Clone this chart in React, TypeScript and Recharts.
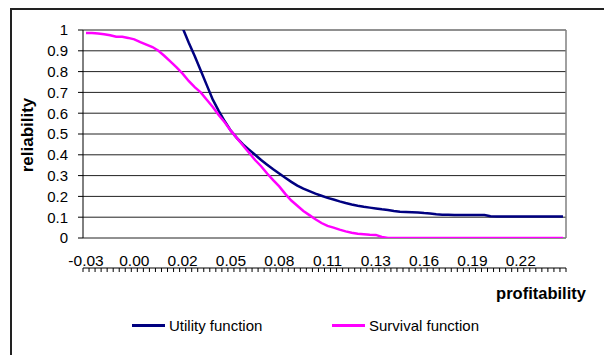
import React from "react";
import {
  LineChart,
  Line,
  XAxis,
  YAxis,
  CartesianGrid,
  Legend,
  ReferenceLine,
  Label,
} from "recharts";

const FONT = '"Liberation Sans", Arial, sans-serif';

// tick labels shown every 8th category
const TICK_LABELS = ["-0.03", "0.00", "0.02", "0.05", "0.08", "0.11", "0.13", "0.16", "0.19", "0.22"];
const LABEL_STEP = 8;

const Y_TICKS = [0, 0.1, 0.2, 0.3, 0.4, 0.5, 0.6, 0.7, 0.8, 0.9, 1];

// utility function (values above 1 are clipped by the plot area)
const UTILITY = [
  null, null, null, null, null, null, null, null, null, null,
  null, null, null, null, 1.22, 1.11, 1.01, 0.94, 0.875, 0.805,
  0.735, 0.665, 0.61, 0.56, 0.515, 0.48, 0.45, 0.425, 0.4, 0.375,
  0.352, 0.33, 0.31, 0.29, 0.27, 0.252, 0.237, 0.225, 0.213, 0.203,
  0.193, 0.185, 0.176, 0.168, 0.161, 0.155, 0.15, 0.146, 0.142, 0.138,
  0.135, 0.13, 0.126, 0.125, 0.124, 0.123, 0.12, 0.118, 0.114, 0.112,
  0.112, 0.11, 0.11, 0.11, 0.11, 0.11, 0.11, 0.105, 0.103, 0.103,
  0.103, 0.103, 0.103, 0.103, 0.103, 0.103, 0.103, 0.103, 0.103, 0.103,
];

// survival function
const SURVIVAL = [
  0.985, 0.985, 0.983, 0.98, 0.975, 0.968, 0.967, 0.962, 0.955, 0.942,
  0.93, 0.918, 0.9, 0.875, 0.848, 0.82, 0.79, 0.755, 0.725, 0.7,
  0.665, 0.63, 0.59, 0.555, 0.515, 0.48, 0.445, 0.41, 0.375, 0.345,
  0.31, 0.278, 0.248, 0.212, 0.18, 0.155, 0.13, 0.11, 0.09, 0.072,
  0.058, 0.05, 0.04, 0.032, 0.025, 0.02, 0.018, 0.016, 0.015, 0.005,
  0, 0, 0, 0, 0, 0, 0, 0, 0, 0,
  0, 0, 0, 0, 0, 0, 0, 0, 0, 0,
  0, 0, 0, 0, 0, 0, 0, 0, 0, 0,
];

const N = SURVIVAL.length;
const data = SURVIVAL.map((s, i) => ({ idx: i, util: UTILITY[i], surv: s }));

// tick marks sit between categories, labels at category centres
const boundaryTicks = Array.from({ length: N + 1 }, (_, i) => i - 0.5);
const labelTicks = TICK_LABELS.map((_, i) => i * LABEL_STEP);

function LegendContent({ payload }: any) {
  const pos: Record<string, number> = { util: 132, surv: 332 };
  return (
    <div style={{ position: "relative", height: 0 }}>
      {(payload || []).map((p: any) => (
        <div
          key={p.dataKey}
          style={{
            position: "absolute",
            left: pos[p.dataKey],
            top: 0,
            display: "flex",
            alignItems: "center",
            whiteSpace: "nowrap",
            fontFamily: FONT,
            fontSize: 15,
            color: "#000",
          }}
        >
          <span style={{ display: "inline-block", width: 33, height: 3, background: p.color, marginRight: 4 }} />
          {p.value}
        </div>
      ))}
    </div>
  );
}

export default function App() {
  return (
    <div
      style={{
        position: "fixed",
        left: 0,
        top: 0,
        width: 604,
        height: 355,
        overflow: "hidden",
        background: "#fff",
      }}
    >
      <div
        style={{
          position: "absolute",
          left: 10,
          top: 8,
          width: 700,
          height: 500,
          border: "2px solid #222",
        }}
      />
      <div style={{ position: "absolute", left: 0, top: 0 }}>
        <LineChart
          width={604}
          height={355}
          data={data}
          margin={{ top: 30, right: 38, left: 23, bottom: 86 }}
        >
          <CartesianGrid horizontal vertical={false} stroke="#222" strokeOpacity={1} />
          <XAxis
            xAxisId="tk"
            type="number"
            dataKey="idx"
            domain={[-0.5, N - 0.5]}
            ticks={boundaryTicks}
            interval={0}
            height={1}
            tickSize={4}
            tickFormatter={() => ""}
            axisLine={{ stroke: "#000", strokeWidth: 1 }}
            tickLine={{ stroke: "#000" }}
          />
          <XAxis
            xAxisId="lab"
            type="number"
            dataKey="idx"
            domain={[-0.5, N - 0.5]}
            ticks={labelTicks}
            interval={0}
            height={30}
            tickSize={0}
            tickMargin={17}
            axisLine={false}
            tickLine={false}
            tickFormatter={(v: number) => TICK_LABELS[Math.round(v / LABEL_STEP)] ?? ""}
            tick={{ fontSize: 15.5, fill: "#000", fontFamily: FONT }}
          >
            <Label
              content={() => (
                <text x={541} y={299} textAnchor="middle" fontFamily={FONT} fontSize={16.5} fontWeight="bold" fill="#000">
                  profitability
                </text>
              )}
            />
          </XAxis>
          <YAxis
            type="number"
            domain={[0, 1]}
            ticks={Y_TICKS}
            interval={0}
            allowDataOverflow
            width={60}
            tickSize={5}
            tickMargin={10}
            axisLine={{ stroke: "#000", strokeWidth: 1 }}
            tickLine={{ stroke: "#000" }}
            tick={{ fontSize: 15, fill: "#000", fontFamily: FONT }}
          >
            <Label
              content={() => (
                <text
                  x={27}
                  y={135}
                  textAnchor="middle"
                  dominantBaseline="central"
                  transform="rotate(-90 27 135)"
                  fontFamily={FONT}
                  fontSize={17}
                  fontWeight="bold"
                  fill="#000"
                >
                  reliability
                </text>
              )}
            />
          </YAxis>
          <ReferenceLine xAxisId="tk" x={N - 0.5} stroke="#808080" strokeWidth={1.5} />
          <Line
            xAxisId="tk"
            dataKey="util"
            name="Utility function"
            stroke="#000080"
            strokeWidth={2.5}
            dot={false}
            connectNulls={false}
            isAnimationActive={false}
          />
          <Line
            xAxisId="tk"
            dataKey="surv"
            name="Survival function"
            stroke="#FF00FF"
            strokeWidth={2.5}
            dot={false}
            isAnimationActive={false}
          />
          <Legend
            content={<LegendContent />}
            wrapperStyle={{ top: 317, left: 0, width: 604, bottom: "auto" }}
          />
        </LineChart>
      </div>
    </div>
  );
}
